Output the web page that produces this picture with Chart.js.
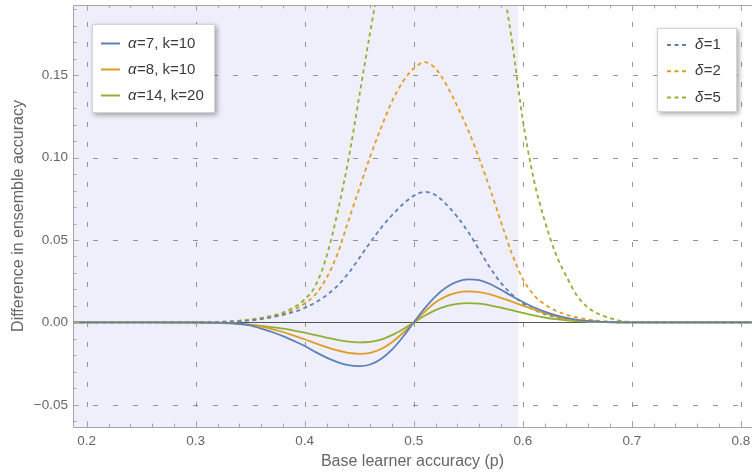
<!DOCTYPE html>
<html><head><meta charset="utf-8">
<script src="https://cdn.jsdelivr.net/npm/chart.js@4.4.1/dist/chart.umd.min.js"></script>
<style>html,body{margin:0;padding:0;background:#fff;overflow:hidden}</style>
</head><body>
<canvas id="c" width="752" height="473"></canvas>
<script>
// Base learner accuracy p (x values)
const p = [0.18,0.20,0.22,0.24,0.26,0.28,
  0.30,0.31,0.32,0.33,0.34,0.35,0.36,0.37,0.38,0.39,0.40,0.41,0.42,0.43,0.44,0.45,0.46,0.47,0.48,0.49,
  0.50,0.51,0.52,0.53,0.54,0.55,0.56,0.57,0.58,0.59,0.60,0.61,0.62,0.63,0.64,0.65,0.66,0.67,0.68,0.69,0.70,
  0.72,0.74,0.76,0.78,0.80,0.82];

// Solid curves
const alpha7k10 = [0,0,0,0,0,0,
  0,-0.00005,-0.0001,-0.0003,-0.0008,-0.0018,-0.0037,-0.0058,-0.0083,-0.0112,-0.0143,-0.0180,-0.0213,-0.0240,-0.0259,-0.0265,-0.0255,-0.0222,-0.0165,-0.0088,
  0,0.0085,0.0158,0.0213,0.0247,0.0261,0.0256,0.0233,0.0198,0.0160,0.0124,0.0092,0.0066,0.0045,0.0028,0.0016,0.0009,0.0005,0.0002,0.0001,0,
  0,0,0,0,0,0];
const alpha8k10 = [0,0,0,0,0,0,
  0,0,-0.0001,-0.0003,-0.0007,-0.0014,-0.0025,-0.0040,-0.0058,-0.0080,-0.0102,-0.0127,-0.0150,-0.0170,-0.0185,-0.0190,-0.0184,-0.0161,-0.0120,-0.0064,
  0,0.0064,0.0122,0.0160,0.0181,0.0188,0.0184,0.0170,0.0149,0.0126,0.0102,0.0079,0.0057,0.0037,0.0022,0.0012,0.0006,0.0003,0.0001,0,0,
  0,0,0,0,0,0];
const alpha14k20 = [0,0,0,0,0,-0.00005,
  -0.0001,-0.0002,-0.0004,-0.0006,-0.0010,-0.0015,-0.0021,-0.0029,-0.0038,-0.0049,-0.0062,-0.0077,-0.0092,-0.0106,-0.0116,-0.0121,-0.0118,-0.0104,-0.0077,-0.0041,
  0,0.0041,0.0075,0.0099,0.0112,0.0117,0.0114,0.0104,0.0090,0.0074,0.0058,0.0043,0.0030,0.0020,0.0013,0.0008,0.0005,0.0003,0.0002,0.0001,0,
  0,0,0,0,0,0];

// Dashed curves
const delta1 = [0,0,0,0,0,0,
  0,0.0001,0.0002,0.0004,0.0007,0.0012,0.0020,0.0032,0.0046,0.0064,0.0088,0.0122,0.0165,0.0222,0.0298,0.0390,0.0485,0.0573,0.0650,0.0717,
  0.0768,0.0792,0.0772,0.0715,0.0640,0.0548,0.0440,0.0332,0.0240,0.0170,0.0117,0.0078,0.0051,0.0032,0.0020,0.0012,0.0007,0.0004,0.0002,0.0001,0,
  0,0,0,0,0,0];
const delta2 = [0,0,0,0,0,0,
  0,0.0001,0.0003,0.0006,0.0010,0.0016,0.0024,0.0035,0.0051,0.0078,0.0115,0.0172,0.0270,0.0415,0.0615,0.0812,0.1005,0.1180,0.1340,0.1460,
  0.1540,0.1578,0.1540,0.1440,0.1310,0.1165,0.0995,0.0810,0.0610,0.0418,0.0265,0.0168,0.0110,0.0072,0.0047,0.0030,0.0018,0.0010,0.0005,0.0002,0.0001,
  0,0,0,0,0,0];
const delta5 = [0,0,0,0,0,0,
  0,0.0001,0.0003,0.0006,0.0011,0.0018,0.0028,0.0042,0.0060,0.0092,0.0140,0.0225,0.0400,0.0665,0.0985,0.1370,0.1760,0.2130,0.2500,0.2850,
  0.3150,0.3400,0.3500,0.3500,0.3400,0.3150,0.2850,0.2500,0.2120,0.1710,0.1230,0.0870,0.0620,0.0420,0.0280,0.0160,0.0090,0.0050,0.0027,0.0010,0.0004,
  0,0,0,0,0,0];

const solidLabels = ['α=7, k=10','α=8, k=10','α=14, k=20'];
const dashedLabels = ['δ=1','δ=2','δ=5'];
const xTicks = [0.2,0.3,0.4,0.5,0.6,0.7,0.8];
const yTicks = [-0.05,0,0.05,0.10,0.15];
const xRange = [0.1874,0.8103];
const yRange = [-0.0634,0.1925];
const shadedUpTo = 0.596;

const colors = ['#5E81B5','#E19C24','#8FB032'];
const DASH = [4,3.5];

Chart.defaults.font.family = '"Liberation Sans", Arial, sans-serif';

function mk(label, arr, color, dashed){
  return {label, data: p.map((x,i)=>({x:x, y:arr[i]})), borderColor:color, backgroundColor:color,
    borderWidth:1.8, borderDash: dashed?DASH:[], pointRadius:0, fill:false,
    cubicInterpolationMode:'monotone', clip:0, showLine:true};
}

function drawLegend(ctx, box, items){
  ctx.save();
  ctx.shadowColor='rgba(0,0,0,0.35)'; ctx.shadowBlur=5; ctx.shadowOffsetX=2; ctx.shadowOffsetY=2;
  ctx.fillStyle='#fff'; ctx.fillRect(box.x, box.y, box.w, box.h);
  ctx.restore();
  ctx.save();
  ctx.strokeStyle='#d4d4d4'; ctx.lineWidth=1;
  ctx.strokeRect(box.x+0.5, box.y+0.5, box.w-1, box.h-1);
  items.forEach((it,i)=>{
    const cy = box.y + box.first + i*box.step;
    ctx.strokeStyle = it.color; ctx.lineWidth = 2; ctx.setLineDash(it.dash);
    ctx.beginPath(); ctx.moveTo(box.x+box.lx0, cy); ctx.lineTo(box.x+box.lx1, cy); ctx.stroke();
    ctx.setLineDash([]);
    ctx.fillStyle='#3a3a3a'; ctx.textBaseline='middle'; ctx.textAlign='left';
    const tx = box.x + box.tx;
    ctx.font = 'italic 15px "Liberation Sans", Arial, sans-serif';
    const g = it.label[0];
    ctx.fillText(g, tx, cy);
    const w = ctx.measureText(g).width;
    ctx.font = '15px "Liberation Sans", Arial, sans-serif';
    ctx.fillText(it.label.slice(1), tx + w + 0.5, cy);
  });
  ctx.restore();
}

const decor = {
  id:'decor',
  beforeDatasetsDraw(chart){
    const {ctx, chartArea:a, scales:{x,y}} = chart;
    ctx.save();
    const xs = x.getPixelForValue(shadedUpTo);
    ctx.fillStyle = '#EFEFFC';
    ctx.fillRect(a.left, a.top, xs - a.left, a.bottom - a.top);
    ctx.strokeStyle='rgba(130,130,130,0.85)'; ctx.lineWidth=1; ctx.setLineDash([5,15]);
    xTicks.forEach(v=>{
      const px = Math.round(x.getPixelForValue(v))+0.5;
      ctx.beginPath(); ctx.moveTo(px, a.bottom); ctx.lineTo(px, a.top); ctx.stroke();
    });
    yTicks.forEach(v=>{
      if (v===0) return;
      const py = Math.round(y.getPixelForValue(v))+0.5;
      ctx.beginPath(); ctx.moveTo(a.left, py); ctx.lineTo(a.right, py); ctx.stroke();
    });
    ctx.setLineDash([]);
    const y0 = Math.round(y.getPixelForValue(0))+0.5;
    ctx.strokeStyle='#555'; ctx.lineWidth=1;
    ctx.beginPath(); ctx.moveTo(a.left, y0); ctx.lineTo(a.right, y0); ctx.stroke();
    ctx.restore();
  },
  afterDatasetsDraw(chart){
    const {ctx, chartArea:a, scales:{x,y}} = chart;
    ctx.save();
    ctx.strokeStyle='#a6a6a6'; ctx.lineWidth=1;
    ctx.beginPath();
    ctx.moveTo(a.right+0.5, a.top+0.5); ctx.lineTo(a.left+0.5, a.top+0.5);
    ctx.lineTo(a.left+0.5, a.bottom+0.5); ctx.lineTo(a.right+0.5, a.bottom+0.5);
    ctx.stroke();
    for (let k=10;k<=82;k+=2){
      const v = k/100; if (v<xRange[0]||v>xRange[1]) continue;
      const major = k%10===0; const L = major?6:3.5;
      const px = Math.round(x.getPixelForValue(v))+0.5;
      ctx.beginPath(); ctx.moveTo(px, a.bottom); ctx.lineTo(px, a.bottom-L);
      ctx.moveTo(px, a.top); ctx.lineTo(px, a.top+L); ctx.stroke();
    }
    for (let k=-6;k<=19;k++){
      const v = k/100; if (v<yRange[0]||v>yRange[1]) continue;
      const major = k%5===0; const L = major?6:3.5;
      const py = Math.round(y.getPixelForValue(v))+0.5;
      ctx.beginPath(); ctx.moveTo(a.left, py); ctx.lineTo(a.left+L, py); ctx.stroke();
    }
    ctx.restore();
    drawLegend(ctx, {x:92,y:24,w:123,h:89,first:19.5,step:26,lx0:9,lx1:28,tx:36},
      solidLabels.map((l,i)=>({label:l,color:colors[i],dash:[]})));
    drawLegend(ctx, {x:657,y:28,w:80,h:84,first:17,step:26.3,lx0:10,lx1:30,tx:38},
      dashedLabels.map((l,i)=>({label:l,color:colors[i],dash:DASH})));
  }
};

new Chart(document.getElementById('c'), {
  type:'scatter',
  data:{datasets:[
    mk(solidLabels[0], alpha7k10, colors[0], false),
    mk(solidLabels[1], alpha8k10, colors[1], false),
    mk(solidLabels[2], alpha14k20, colors[2], false),
    mk(dashedLabels[0], delta1, colors[0], true),
    mk(dashedLabels[1], delta2, colors[1], true),
    mk(dashedLabels[2], delta5, colors[2], true)
  ]},
  options:{
    responsive:false, animation:false, devicePixelRatio:1,
    layout:{padding:{top:5,right:0,left:0,bottom:0}},
    plugins:{legend:{display:false}, tooltip:{enabled:false}},
    scales:{
      x:{type:'linear', min:xRange[0], max:xRange[1],
        afterBuildTicks:s=>{ s.ticks = xTicks.map(v=>({value:v})); },
        afterFit:s=>{ s.height=46; s.paddingLeft=0; s.paddingRight=0; },
        grid:{display:false, drawTicks:false}, border:{display:false},
        ticks:{padding:6, font:{size:13.5}, color:'#666', maxRotation:0, autoSkip:false,
          callback:v=>v.toFixed(1)},
        title:{display:true, text:'Base learner accuracy (p)', font:{size:16}, color:'#666', padding:{top:0,bottom:2}}
      },
      y:{type:'linear', min:yRange[0], max:yRange[1],
        afterBuildTicks:s=>{ s.ticks = yTicks.map(v=>({value:v})); },
        afterFit:s=>{ s.width=73; s.paddingTop=0; s.paddingBottom=0; },
        grid:{display:false, drawTicks:false}, border:{display:false},
        ticks:{padding:5, font:{size:13.5}, color:'#666', autoSkip:false,
          callback:v=>(v<0?'\u2212':'')+Math.abs(v).toFixed(2)},
        title:{display:true, text:'Difference in ensemble accuracy', font:{size:16}, color:'#666', padding:{top:9,bottom:0}}
      }
    }
  },
  plugins:[decor]
});
</script>
</body></html>
